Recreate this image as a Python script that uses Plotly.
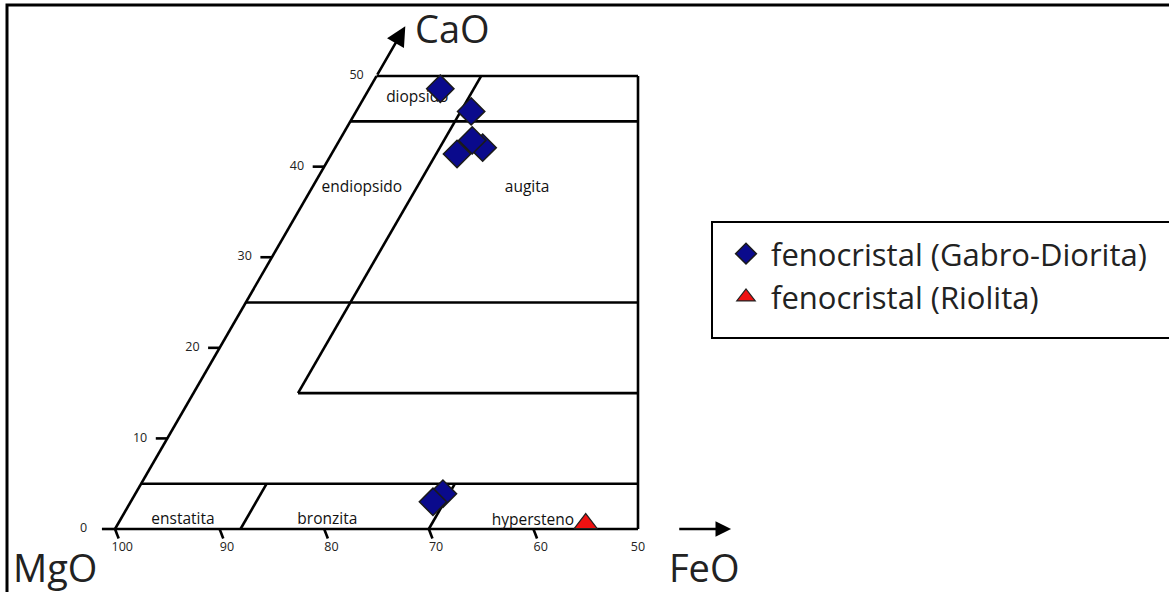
import math
import plotly.graph_objects as go

# ---------------- data (compositions: FeO = Fs %, CaO = Wo %) ----------------
gabro_feo = [6.8, 11.0, 14.1, 12.7, 12.0, 29.4, 28.9]
gabro_cao = [48.6, 46.1, 42.1, 42.9, 41.4, 3.9, 3.0]

riolita_feo = [44.7]
riolita_cao = [0.6]

# field boundaries: (FeO start, CaO start, FeO end, CaO end)
bound_feo0 = [0, 0, 0, 0, 0, 10, 0, 10, 12, 30, 50]
bound_cao0 = [0, 0, 50, 45, 25, 15, 5, 15, 0, 0, 0]
bound_feo1 = [50, 0, 25, 27.5, 37.5, 42.5, 47.5, 10, 12, 30, 25]
bound_cao1 = [0, 50, 50, 45, 25, 15, 5, 50, 5, 5, 50]

# axis ticks
cao_ticks = [0, 10, 20, 30, 40, 50]
mgo_ticks = [100, 90, 80, 70, 60, 50]

# field names
field_names = ["diopsido", "endiopsido", "augita", "enstatita", "bronzita", "hypersteno"]
field_feo = [5.1, 4.8, 20.6, 6.0, 19.8, 39.5]
field_cao = [47.6, 37.6, 37.6, 1.0, 1.0, 0.9]

S3 = math.sqrt(3) / 2


def tx(feo, cao):
    return feo + cao / 2.0


def ty(cao):
    return cao * S3


fig = go.Figure()

# boundary lines
lx, ly = [], []
for f0, c0, f1, c1 in zip(bound_feo0, bound_cao0, bound_feo1, bound_cao1):
    lx += [tx(f0, c0), tx(f1, c1), None]
    ly += [ty(c0), ty(c1), None]
# CaO ticks (horizontal, left of the edge), 0 tick longer
for c in cao_ticks[:-1]:
    L = 1.25 if c == 0 else 1.1
    lx += [tx(0, c) - L, tx(0, c), None]
    ly += [ty(c), ty(c), None]
# MgO ticks (down along constant-En direction)
for m in mgo_ticks[:-1]:
    f = 100 - m
    lx += [tx(f, 0), tx(f, 0) + 0.35, None]
    ly += [0, -0.9, None]
fig.add_trace(go.Scatter(x=lx, y=ly, mode="lines",
                         line=dict(color="black", width=2.6),
                         hoverinfo="skip", showlegend=False))

# field names (drawn below markers)
fig.add_trace(go.Scatter(
    x=[tx(f, c) for f, c in zip(field_feo, field_cao)],
    y=[ty(c) for c in field_cao],
    mode="text", text=field_names,
    textfont=dict(family="Open Sans", size=15.5, color="#111111"),
    hoverinfo="skip", showlegend=False))

# tick labels
fig.add_trace(go.Scatter(
    x=[tx(0, c) - (3.0 if c == 0 else (1.9 if c == 50 else 2.6)) for c in cao_ticks],
    y=[ty(c) for c in cao_ticks],
    mode="text", text=[str(c) for c in cao_ticks],
    textfont=dict(family="Open Sans", size=12.5, color="#222222"),
    hoverinfo="skip", showlegend=False))
fig.add_trace(go.Scatter(
    x=[tx(100 - m, 0) + (0.0 if m == 50 else 0.7) for m in mgo_ticks],
    y=[-1.8 for m in mgo_ticks],
    mode="text", text=[str(m) for m in mgo_ticks],
    textfont=dict(family="Open Sans", size=12.5, color="#222222"),
    hoverinfo="skip", showlegend=False))

# data points
fig.add_trace(go.Scatter(
    x=[tx(f, c) for f, c in zip(gabro_feo, gabro_cao)],
    y=[ty(c) for c in gabro_cao],
    mode="markers", name="fenocristal (Gabro-Diorita)", legendgroup="g1",
    marker=dict(symbol="diamond", size=21, color="#0a0a8c",
                line=dict(color="#1a1a1a", width=1.5))))
fig.add_trace(go.Scatter(
    x=[tx(f, c) for f, c in zip(riolita_feo, riolita_cao)],
    y=[ty(c) for c in riolita_cao],
    mode="markers", name="fenocristal (Riolita)", legendgroup="g2",
    marker=dict(symbol="triangle-up", size=20, color="#ee1111",
                line=dict(color="#222222", width=1.2))))

# axis arrows
fig.add_annotation(x=tx(0, 55.5), y=ty(55.5), ax=tx(0, 50), ay=ty(50),
                   xref="x", yref="y", axref="x", ayref="y", text="",
                   showarrow=True, arrowhead=2, arrowsize=1.5, arrowwidth=2.6,
                   arrowcolor="black")
fig.add_annotation(x=58.9, y=0, ax=53.8, ay=0,
                   xref="x", yref="y", axref="x", ayref="y", text="",
                   showarrow=True, arrowhead=2, arrowsize=1.3, arrowwidth=2.4,
                   arrowcolor="black")

# corner labels
big = dict(family="Open Sans", size=38, color="#222222")
fig.add_annotation(x=32.3, y=47.9, text="CaO", showarrow=False, font=big)
fig.add_annotation(x=-5.7, y=-3.6, text="MgO", showarrow=False, font=big)
fig.add_annotation(x=56.4, y=-3.6, text="FeO", showarrow=False, font=big)

# outer frame and legend box
fig.add_shape(type="rect", xref="paper", yref="paper",
              x0=7 / 1169, x1=1.02, y0=-0.02, y1=1 - 5 / 592,
              line=dict(color="black", width=3))
fig.add_shape(type="rect", xref="paper", yref="paper",
              x0=712 / 1169, x1=1.02, y0=1 - 338 / 592, y1=1 - 222 / 592,
              line=dict(color="black", width=2))

W, H = 1169, 592
PX = 10.46
fig.update_layout(
    width=W, height=H,
    margin=dict(l=0, r=0, t=0, b=0),
    paper_bgcolor="white", plot_bgcolor="white",
    xaxis=dict(range=[-115 / PX, (W - 115) / PX], visible=False, fixedrange=True),
    yaxis=dict(range=[-(H - 529) / PX, 529 / PX], visible=False, fixedrange=True),
    showlegend=True,
    legend=dict(x=721 / 1169, y=1 - 227 / 592, xanchor="left", yanchor="top",
                bgcolor="rgba(0,0,0,0)", borderwidth=0, itemwidth=40,
                font=dict(family="Open Sans", size=31, color="#222222"),
                tracegroupgap=0),
)

fig.write_html("out.html", config={"displayModeBar": False},
               post_script="document.body.style.margin='0';document.body.style.overflow='hidden';")
